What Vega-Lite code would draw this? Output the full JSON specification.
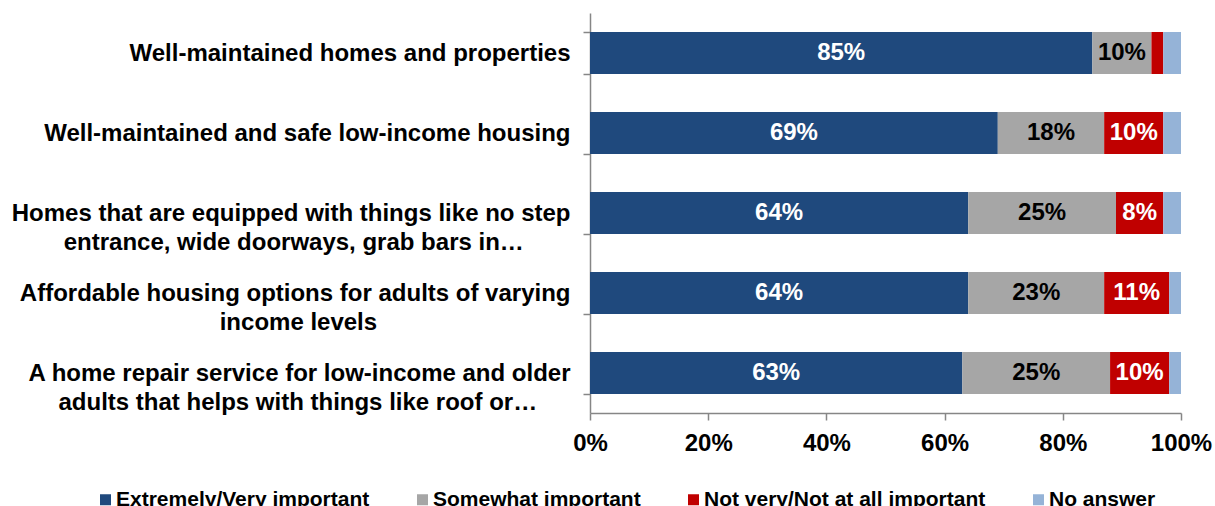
{
  "$schema": "https://vega.github.io/schema/vega-lite/v6.json",
  "autosize": {"type": "none"},
  "width": 591,
  "height": 400,
  "padding": {"left": 590, "top": 13, "right": 34, "bottom": 93},
  "background": "white",
  "config": {
    "font": "Liberation Sans",
    "view": {"stroke": null},
    "axis": {"grid": false}
  },
  "data": {
    "values": [
      {"q": "Well-maintained homes and properties", "r": "Extremely/Very important", "k": 1, "v": 0.85},
      {"q": "Well-maintained homes and properties", "r": "Somewhat important", "k": 2, "v": 0.10},
      {"q": "Well-maintained homes and properties", "r": "Not very/Not at all important", "k": 3, "v": 0.02},
      {"q": "Well-maintained homes and properties", "r": "No answer", "k": 4, "v": 0.03},
      {"q": "Well-maintained and safe low-income housing", "r": "Extremely/Very important", "k": 1, "v": 0.69},
      {"q": "Well-maintained and safe low-income housing", "r": "Somewhat important", "k": 2, "v": 0.18},
      {"q": "Well-maintained and safe low-income housing", "r": "Not very/Not at all important", "k": 3, "v": 0.10},
      {"q": "Well-maintained and safe low-income housing", "r": "No answer", "k": 4, "v": 0.03},
      {"q": "Homes that are equipped with things like no step|entrance, wide doorways, grab bars in…\u00a0\u00a0\u00a0\u00a0\u00a0\u00a0\u00a0\u200b", "r": "Extremely/Very important", "k": 1, "v": 0.64},
      {"q": "Homes that are equipped with things like no step|entrance, wide doorways, grab bars in…\u00a0\u00a0\u00a0\u00a0\u00a0\u00a0\u00a0\u200b", "r": "Somewhat important", "k": 2, "v": 0.25},
      {"q": "Homes that are equipped with things like no step|entrance, wide doorways, grab bars in…\u00a0\u00a0\u00a0\u00a0\u00a0\u00a0\u00a0\u200b", "r": "Not very/Not at all important", "k": 3, "v": 0.08},
      {"q": "Homes that are equipped with things like no step|entrance, wide doorways, grab bars in…\u00a0\u00a0\u00a0\u00a0\u00a0\u00a0\u00a0\u200b", "r": "No answer", "k": 4, "v": 0.03},
      {"q": "Affordable housing options for adults of varying|income levels\u00a0\u00a0\u00a0\u00a0\u00a0\u00a0\u00a0\u00a0\u00a0\u00a0\u00a0\u00a0\u00a0\u00a0\u00a0\u00a0\u00a0\u00a0\u00a0\u00a0\u00a0\u00a0\u00a0\u00a0\u00a0\u00a0\u00a0\u00a0\u00a0\u200b", "r": "Extremely/Very important", "k": 1, "v": 0.64},
      {"q": "Affordable housing options for adults of varying|income levels\u00a0\u00a0\u00a0\u00a0\u00a0\u00a0\u00a0\u00a0\u00a0\u00a0\u00a0\u00a0\u00a0\u00a0\u00a0\u00a0\u00a0\u00a0\u00a0\u00a0\u00a0\u00a0\u00a0\u00a0\u00a0\u00a0\u00a0\u00a0\u00a0\u200b", "r": "Somewhat important", "k": 2, "v": 0.23},
      {"q": "Affordable housing options for adults of varying|income levels\u00a0\u00a0\u00a0\u00a0\u00a0\u00a0\u00a0\u00a0\u00a0\u00a0\u00a0\u00a0\u00a0\u00a0\u00a0\u00a0\u00a0\u00a0\u00a0\u00a0\u00a0\u00a0\u00a0\u00a0\u00a0\u00a0\u00a0\u00a0\u00a0\u200b", "r": "Not very/Not at all important", "k": 3, "v": 0.11},
      {"q": "Affordable housing options for adults of varying|income levels\u00a0\u00a0\u00a0\u00a0\u00a0\u00a0\u00a0\u00a0\u00a0\u00a0\u00a0\u00a0\u00a0\u00a0\u00a0\u00a0\u00a0\u00a0\u00a0\u00a0\u00a0\u00a0\u00a0\u00a0\u00a0\u00a0\u00a0\u00a0\u00a0\u200b", "r": "No answer", "k": 4, "v": 0.02},
      {"q": "A home repair service for low-income and older|adults that helps with things like roof or…\u00a0\u00a0\u00a0\u00a0\u00a0\u200b", "r": "Extremely/Very important", "k": 1, "v": 0.63},
      {"q": "A home repair service for low-income and older|adults that helps with things like roof or…\u00a0\u00a0\u00a0\u00a0\u00a0\u200b", "r": "Somewhat important", "k": 2, "v": 0.25},
      {"q": "A home repair service for low-income and older|adults that helps with things like roof or…\u00a0\u00a0\u00a0\u00a0\u00a0\u200b", "r": "Not very/Not at all important", "k": 3, "v": 0.10},
      {"q": "A home repair service for low-income and older|adults that helps with things like roof or…\u00a0\u00a0\u00a0\u00a0\u00a0\u200b", "r": "No answer", "k": 4, "v": 0.02}
    ]
  },
  "encoding": {
    "y": {
      "field": "q", "type": "nominal", "sort": null, "title": null,
      "scale": {"paddingInner": 0.475, "paddingOuter": 0.2375},
      "axis": {
        "labelExpr": "split(datum.label, '|')",
        "labelFontSize": 24, "labelFontWeight": "bold", "labelColor": "black",
        "labelLimit": 600, "labelPadding": 13, "labelLineHeight": 29,
        "tickBand": "extent", "tickSize": 7, "tickColor": "#868686", "tickWidth": 1.5,
        "domainColor": "#868686", "domainWidth": 1.5
      }
    },
    "x": {
      "field": "v", "type": "quantitative", "stack": "zero", "title": null,
      "scale": {"domain": [0, 1], "nice": false},
      "axis": {
        "values": [0, 0.2, 0.4, 0.6, 0.8, 1], "format": ".0%",
        "labelFontSize": 24, "labelFontWeight": "bold", "labelColor": "black",
        "labelPadding": 11, "tickSize": 7, "tickColor": "#868686", "tickWidth": 1.5,
        "domainColor": "#868686", "domainWidth": 1.5, "labelFlush": false
      }
    },
    "order": {"field": "k", "type": "quantitative"}
  },
  "layer": [
    {
      "mark": {"type": "bar"},
      "encoding": {
        "color": {
          "field": "r", "type": "nominal", "title": null,
          "scale": {
            "domain": ["Extremely/Very important", "Somewhat important", "Not very/Not at all important", "No answer"],
            "range": ["#1F497D", "#A6A6A6", "#C00000", "#95B3D7"]
          },
          "legend": {
            "orient": "none", "legendX": -495, "legendY": 476, "direction": "horizontal",
            "symbolType": "square", "symbolSize": 121, "symbolStrokeWidth": 0,
            "labelFontSize": 21, "labelFontWeight": "bold", "labelColor": "black",
            "labelOffset": 0, "columnPadding": 42, "labelLimit": 400
          }
        }
      }
    },
    {
      "mark": {"type": "text", "fontSize": 24, "fontWeight": "bold"},
      "encoding": {
        "x": {"field": "v", "type": "quantitative", "stack": "zero", "bandPosition": 0.5},
        "detail": {"field": "r"},
        "text": {"field": "v", "type": "quantitative", "format": ".0%"},
        "color": {"condition": {"test": "datum.r === 'Somewhat important'", "value": "black"}, "value": "white"},
        "opacity": {"condition": {"test": "datum.v < 0.05 || datum.r === 'No answer'", "value": 0}, "value": 1}
      }
    }
  ]
}
